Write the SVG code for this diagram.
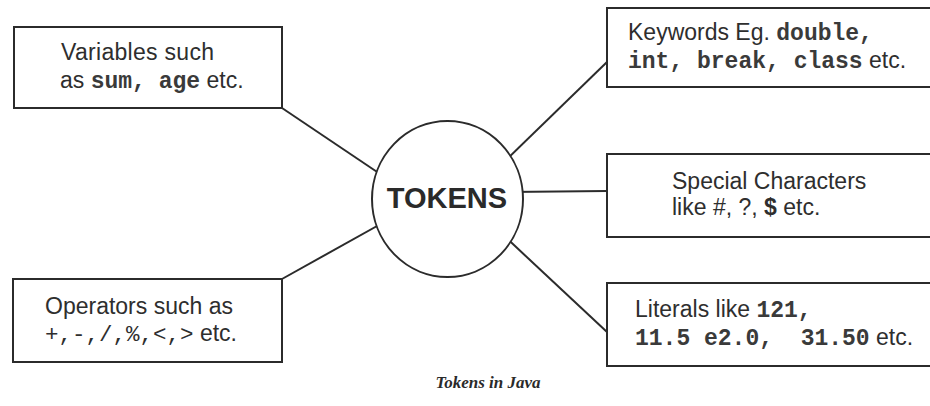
<svg xmlns="http://www.w3.org/2000/svg" width="930" height="406" viewBox="0 0 930 406">
  <style>
    .box { fill: #ffffff; stroke: #2b2b2b; stroke-width: 2; }
    .hub { fill: #ffffff; stroke: #2b2b2b; stroke-width: 2; }
    .link { stroke: #2b2b2b; stroke-width: 2; fill: none; }
    .lbl { font-family: "Liberation Sans", Arial, sans-serif; font-size: 23px; fill: #2e2e2e; }
    .code { font-family: "Liberation Mono", "Courier New", monospace; font-weight: bold; font-size: 23px; fill: #3a3a3a; }
    .ops { font-family: "Liberation Mono", "Courier New", monospace; font-size: 22.5px; }
    .hubtxt { font-family: "Liberation Sans", Arial, sans-serif; font-weight: bold; font-size: 29px; fill: #2a2a2a; }
    .cap { font-family: "Liberation Serif", "Times New Roman", serif; font-weight: bold; font-style: italic; font-size: 17px; fill: #2a2a2a; }
  </style>

  <rect width="930" height="406" fill="#ffffff"/>

  <!-- spokes from the hub to each category box -->
  <g id="connectors">
    <line class="link" x1="282" y1="108" x2="395" y2="184"/>
    <line class="link" x1="282" y1="279" x2="395" y2="216"/>
    <line class="link" x1="607" y1="62" x2="500" y2="166"/>
    <line class="link" x1="607" y1="191" x2="500" y2="192"/>
    <line class="link" x1="607" y1="332" x2="500" y2="232"/>
  </g>

  <g id="tokens">
    <ellipse class="hub" cx="447.5" cy="199" rx="75.5" ry="78"/>
    <text class="hubtxt" x="447" y="208" text-anchor="middle">TOKENS</text>
  </g>

  <g id="variables">
    <rect class="box" x="14" y="27" width="268" height="81"/>
    <text class="lbl" x="61" y="60" textLength="153">Variables such</text>
    <text class="lbl" x="60" y="88">as <tspan class="code">sum,</tspan>&#160; <tspan class="code">age</tspan> etc.</text>
  </g>

  <g id="operators">
    <rect class="box" x="13" y="279" width="269" height="83"/>
    <text class="lbl" x="45" y="314">Operators such as</text>
    <text class="lbl" x="45" y="341"><tspan class="ops">+,-,/,%,&lt;,&gt;</tspan> etc.</text>
  </g>

  <g id="keywords">
    <rect class="box" x="607" y="8" width="330" height="79"/>
    <text class="lbl" x="628" y="40">Keywords Eg. <tspan class="code">double,</tspan></text>
    <text class="lbl" x="628" y="68"><tspan class="code">int, break, class</tspan>&#160;etc.</text>
  </g>

  <g id="special">
    <rect class="box" x="607" y="154" width="330" height="83"/>
    <text class="lbl" x="672" y="189">Special Characters</text>
    <text class="lbl" x="672" y="215">like #, ?, <tspan font-weight="bold">$</tspan> etc.</text>
  </g>

  <g id="literals">
    <rect class="box" x="607" y="283" width="330" height="83"/>
    <text class="lbl" x="635" y="317">Literals like <tspan class="code">121,</tspan></text>
    <text class="lbl" x="635" y="345"><tspan class="code">11.5&#160;e2.0,&#160; 31.50</tspan> etc.</text>
  </g>

  <text class="cap" x="488" y="388" text-anchor="middle">Tokens in Java</text>
</svg>
